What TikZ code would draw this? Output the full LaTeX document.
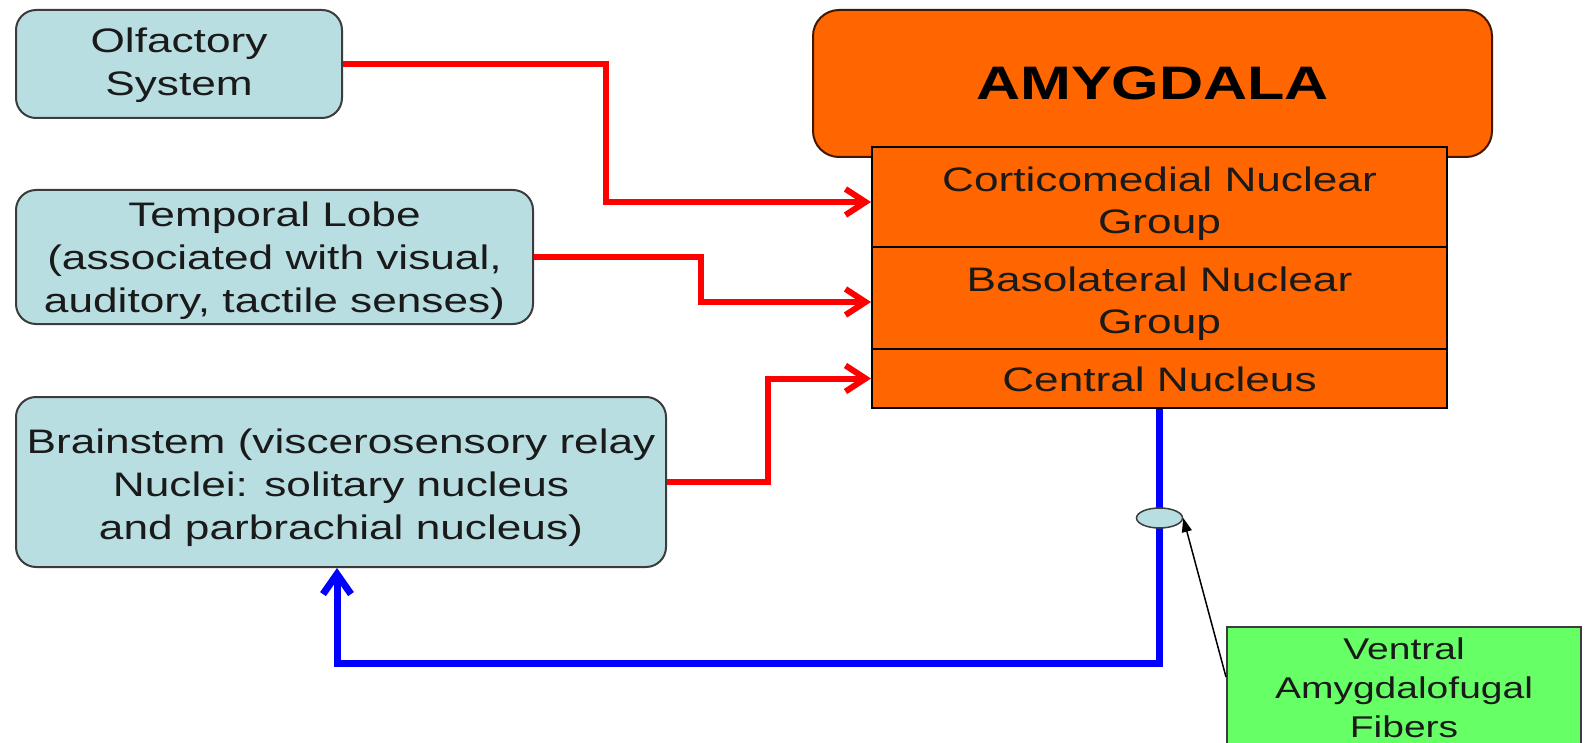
\documentclass[tikz,border=0pt]{standalone}
\usepackage{fontspec}
\setmainfont{Liberation Sans}[FakeStretch=1.3]
\usetikzlibrary{arrows.meta,shapes.geometric,calc}
\definecolor{paleblue}{HTML}{B9DEE2}
\definecolor{amyorange}{HTML}{FF6600}
\definecolor{fibgreen}{HTML}{66FF66}
\definecolor{boxedge}{HTML}{3C3C3C}
\definecolor{inktext}{HTML}{1A1A1A}
\tikzset{
  srcbox/.style={draw=boxedge, line width=2pt, fill=paleblue, rounded corners=20pt, inner sep=0pt},
  amybox/.style={draw=black!75!amyorange, line width=2pt, fill=amyorange, rounded corners=26pt,
    align=center, text=black, font=\fontsize{47}{56}\selectfont\bfseries, inner sep=0pt},
  nucbox/.style={draw=black, line width=2pt, fill=amyorange, inner sep=0pt, minimum width=575pt},
  fibbox/.style={draw=boxedge, line width=2pt, fill=fibgreen, align=center, text=inktext,
    font=\fontsize{30}{39}\selectfont, inner sep=0pt},
  boxtext/.style={align=center, text=inktext, font=\fontsize{34}{43}\selectfont, inner sep=0pt},
  celltext/.style={align=center, text=inktext, font=\fontsize{34}{42}\selectfont, inner sep=0pt},
  inpath/.style={draw=red, line width=6pt,
    -{Straight Barb[length=20pt,width=26pt,line width=6pt]}},
  outpath/.style={draw=blue, line width=7pt,
    -{Straight Barb[length=20pt,width=28pt,line width=7pt]}},
  pointer/.style={draw=black, line width=1.5pt, -{Triangle[length=14pt,width=10pt]}},
}
\begin{document}
\begin{tikzpicture}[x=1pt,y=-1pt]
\useasboundingbox (0,0) rectangle (1587,743);

% source regions
\node[srcbox, minimum width=326pt, minimum height=108pt] (olf) at (179,64) {};
\node[boxtext] (olf-t) at ([yshift=-1pt]olf.center) {Olfactory\\System};
\node[srcbox, minimum width=517pt, minimum height=134pt] (tmp) at (274.5,257) {};
\node[boxtext] (tmp-t) at ([yshift=-4pt]tmp.center)
  {Temporal Lobe\\(associated with visual,\\auditory, tactile senses)};
\node[srcbox, minimum width=650pt, minimum height=170pt] (bst) at (341,482) {};
\node[boxtext] (bst-t) at ([yshift=-6pt]bst.center)
  {Brainstem (viscerosensory relay\\Nuclei: solitary nucleus\\and parbrachial nucleus)};

% amygdala and its nuclear groups
\node[amybox, minimum width=679pt, minimum height=147pt] (amy) at (1152.5,83.5) {AMYGDALA};
\node[nucbox, minimum height=100pt] (cm) at (1159.5,197) {};
\node[celltext] (cm-t) at ([yshift=-7pt]cm.center) {Corticomedial Nuclear\\Group};
\node[nucbox, minimum height=102pt] (bl) at (1159.5,298) {};
\node[celltext] (bl-t) at ([yshift=-6pt]bl.center) {Basolateral Nuclear\\Group};
\node[nucbox, minimum height=59pt] (ce) at (1159.5,378.5) {};
\node[celltext] (ce-t) at ([yshift=-1pt]ce.center) {Central Nucleus};

% afferent pathways
\draw[inpath] (olf.east) -- ++(263,0) |- ([yshift=-5pt]cm.west);
\draw[inpath] (tmp.east) -- ++(167,0) |- ([yshift=-4pt]bl.west);
\draw[inpath] (bst.east) -- ++(101,0) |- (ce.west);

% efferent pathway back to the brainstem
\coordinate (turn) at (1159.5,663);
\draw[outpath] (ce.south) |- ([xshift=-4pt]bst.south |- turn) -- ([xshift=-4pt]bst.south);

% fibre bundle marker and its label
\node[ellipse, draw=boxedge, line width=1.5pt, fill=paleblue, minimum width=46pt,
  minimum height=20pt, inner sep=0pt] (bundle) at (1159.5,518) {};
\node[fibbox, minimum width=354pt, minimum height=122pt] (fib) at (1404,688)
  {Ventral\\Amygdalofugal\\Fibers};
\draw[pointer] ([yshift=-51pt]fib.north west) -- (bundle.east);
\end{tikzpicture}
\end{document}
